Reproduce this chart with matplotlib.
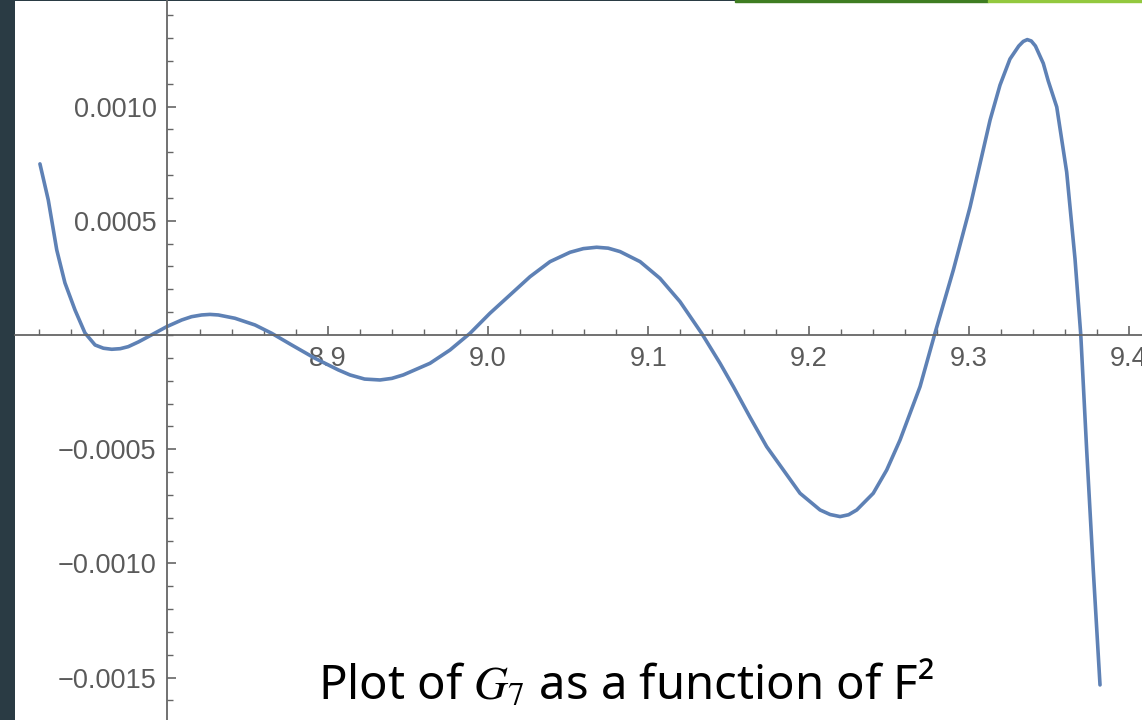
import matplotlib
matplotlib.use('Agg')
import matplotlib.pyplot as plt
from matplotlib import font_manager as fm
from matplotlib.ticker import MultipleLocator, FixedLocator
from matplotlib.patches import Rectangle

# ---- data ----
x_vals = [8.7204, 8.7256, 8.7309, 8.7360, 8.7423, 8.7485, 8.7548, 8.7600, 8.7652, 8.7705,
          8.7755, 8.7820, 8.7880, 8.7995, 8.8089, 8.8150, 8.8213, 8.8265, 8.8317, 8.8421,
          8.8546, 8.8650, 8.8775, 8.8920, 8.9066, 8.9139, 8.9230, 8.9326, 8.9400, 8.9471,
          8.9638, 8.9763, 8.9888, 9.0012, 9.0137, 9.0262, 9.0387, 9.0512, 9.0595, 9.0678,
          9.0750, 9.0824, 9.0949, 9.1073, 9.1198, 9.1333, 9.1448, 9.1531, 9.1635, 9.1739,
          9.1843, 9.1947, 9.2072, 9.2135, 9.2197, 9.2250, 9.2301, 9.2404, 9.2488, 9.2571,
          9.2696, 9.2789, 9.2904, 9.3008, 9.3133, 9.3195, 9.3257, 9.3312, 9.3340, 9.3365,
          9.3390, 9.3416, 9.3465, 9.3496, 9.3549, 9.3611, 9.3663, 9.3699, 9.3736, 9.3777,
          9.3819]
y_vals = [0.000749, 0.000591, 0.000372, 0.000228, 0.000109, 0.0000088, -0.0000438, -0.0000580, -0.0000626, -0.0000600,
          -0.0000512, -0.0000300, -0.0000074, 0.0000363, 0.0000657, 0.0000800, 0.0000876, 0.0000900, 0.0000876, 0.0000731,
          0.0000438, 0.0000074, -0.0000438, -0.000102, -0.000153, -0.000175, -0.000193, -0.000197, -0.000190, -0.000175,
          -0.000124, -0.0000657, 0.0000074, 0.0000950, 0.000175, 0.000255, 0.000321, 0.000362, 0.000378, 0.000384,
          0.000380, 0.000365, 0.000321, 0.000248, 0.000146, 0.0000074, -0.000124, -0.000226, -0.000360, -0.000489,
          -0.000591, -0.000693, -0.000766, -0.000786, -0.000795, -0.000787, -0.000766, -0.000693, -0.000591, -0.000460,
          -0.000226, 0.0000074, 0.000285, 0.000560, 0.000941, 0.001094, 0.001208, 0.001265, 0.001285, 0.001293,
          0.001287, 0.001265, 0.001189, 0.001112, 0.000998, 0.000713, 0.000333, 0.0, -0.000507, -0.001030,
          -0.001532]

x_ticks = [8.9, 9.0, 9.1, 9.2, 9.3, 9.4]
x_tick_labels = ['8.9', '9.0', '9.1', '9.2', '9.3', '9.4']
y_ticks = [0.0010, 0.0005, -0.0005, -0.0010, -0.0015]
y_tick_labels = ['0.0010', '0.0005', '\u22120.0005', '\u22120.0010', '\u22120.0015']
caption = 'Plot of $G_7$ as a function of F\u00b2'


def has_font(name):
    try:
        fm.findfont(fm.FontProperties(family=name), fallback_to_default=False)
        return True
    except Exception:
        return False


tick_font = 'Liberation Sans Narrow' if has_font('Liberation Sans Narrow') else 'Liberation Sans'
cap_font = 'Noto Sans'
plt.rcParams['mathtext.fontset'] = 'stix'

W, H = 1142, 720
fig = plt.figure(figsize=(W / 100, H / 100), dpi=100, facecolor='#2A3B44')
ax = fig.add_axes([15 / W, 0, (W - 15) / W, 719 / H])
ax.set_facecolor('white')

ax.plot(x_vals, y_vals, color='#5E81B5', lw=2.6, solid_joinstyle='round', solid_capstyle='round')

ax.set_xlim(8.70484, 9.4081)
ax.set_ylim(-0.0016855, 0.001462)

for s in ['top', 'right']:
    ax.spines[s].set_visible(False)
ax.spines['left'].set_position(('data', 8.8))
ax.spines['bottom'].set_position(('data', 0))
for s in ['left', 'bottom']:
    ax.spines[s].set_color('#666666')
    ax.spines[s].set_linewidth(1.3)

ax.xaxis.set_major_locator(FixedLocator(x_ticks))
ax.set_xticklabels(x_tick_labels)
ax.xaxis.set_minor_locator(MultipleLocator(0.02))
ax.yaxis.set_major_locator(FixedLocator(y_ticks))
ax.set_yticklabels(y_tick_labels)
ax.yaxis.set_minor_locator(MultipleLocator(0.0001))

ax.tick_params(axis='both', which='major', direction='in', length=6.5, width=1.2,
               color='#666666', labelcolor='#5A5A5A', labelsize=19.5, pad=8)
ax.tick_params(axis='both', which='minor', direction='in', length=4, width=1.0, color='#666666')
for lab in ax.get_xticklabels() + ax.get_yticklabels():
    lab.set_family(tick_font)

# top accent strip
fig.patches.append(Rectangle((735 / W, 1 - 1.5 / H), (988 - 735) / W, 1.5 / H,
                             transform=fig.transFigure, color='#3F7D22', zorder=5))
fig.patches.append(Rectangle((988 / W, 1 - 1.5 / H), (W - 988) / W, 1.5 / H,
                             transform=fig.transFigure, color='#93C83E', zorder=5))

fig.text(318 / W, 1 - 700 / H, caption, fontsize=34, family=cap_font, color='black',
         ha='left', va='baseline')

fig.savefig('out.png', dpi=100, facecolor=fig.get_facecolor())
